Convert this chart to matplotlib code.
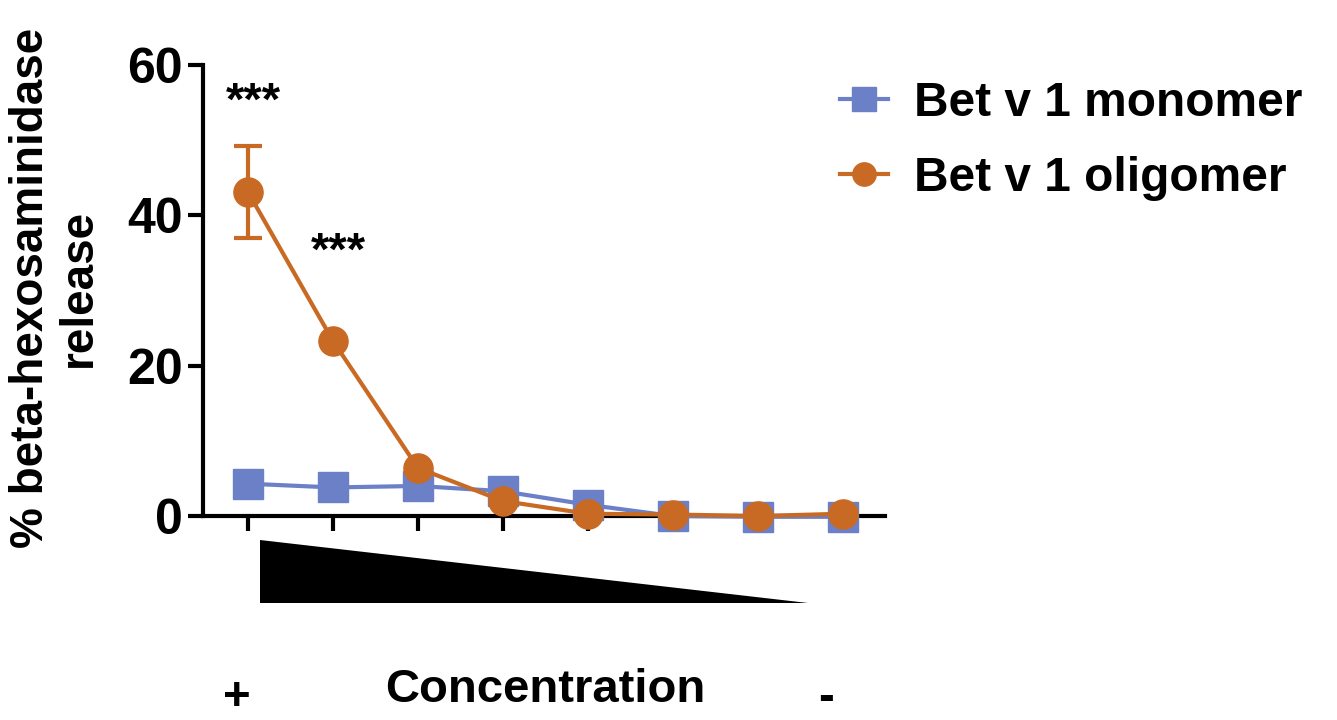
import numpy as np
import matplotlib.pyplot as plt
from matplotlib.patches import Polygon

plt.rcParams['font.family'] = ['Liberation Sans', 'DejaVu Sans']
plt.rcParams['font.weight'] = 'bold'

# dilution steps, highest concentration first
doses = np.arange(8)
monomer = [4.3, 3.8, 4.0, 3.3, 1.5, 0.0, -0.1, -0.1]
oligomer = [43.1, 23.3, 6.4, 2.0, 0.3, 0.2, 0.0, 0.3]
# SD only drawn where it sticks out of the marker
err_idx = [0]
oligomer_err = [6.1]
stars = ['***', '***']
star_y = [55.0, 35.0]

blue = '#6b80c6'
orange = '#c86a23'

fig = plt.figure(figsize=(13.37, 7.2), dpi=100)
ax = fig.add_axes([0.1518, 0.2833, 0.5102, 0.6264])

l1, = ax.plot(doses, monomer, color=blue, lw=3, marker='s', ms=21,
              label='Bet v 1 monomer', clip_on=False, zorder=3)
ax.errorbar(doses[err_idx], [oligomer[i] for i in err_idx], yerr=oligomer_err,
            fmt='none', ecolor=orange, capsize=10, capthick=3, elinewidth=3,
            zorder=4)
l2, = ax.plot(doses, oligomer, color=orange, lw=3, marker='o', ms=21,
              label='Bet v 1 oligomer', clip_on=False, zorder=5)

for i, s in enumerate(stars):
    ax.text(doses[i] + 0.07, star_y[i], s, ha='center', va='center',
            fontsize=34, fontweight='bold')

ax.set_xlim(-0.53, 7.5)
ax.set_ylim(0, 60)
ax.set_yticks([0, 20, 40, 60])
ax.set_xticks(doses)
ax.set_xticklabels([])
for s in ['top', 'right']:
    ax.spines[s].set_visible(False)
for s in ['left', 'bottom']:
    ax.spines[s].set_linewidth(3)
ax.tick_params(axis='both', width=3, length=11, labelsize=36)
for lab in ax.get_yticklabels():
    lab.set_fontweight('bold')

# concentration wedge below the axis
wedge = Polygon([(260 / 1337, 1 - 540 / 720), (808 / 1337, 1 - 603 / 720),
                 (260 / 1337, 1 - 603 / 720)], closed=True,
                facecolor='black', edgecolor='none', transform=fig.transFigure)
fig.patches.append(wedge)

fig.text(237 / 1337, 1 - 698 / 720, '+', ha='center', va='center',
         fontsize=34, fontweight='bold')
fig.text(826 / 1337, 1 - 698 / 720, '-', ha='center', va='center',
         fontsize=34, fontweight='bold')
fig.text(545 / 1337, 1 - 690 / 720, 'Concentration', ha='center', va='center',
         fontsize=34, fontweight='bold')

fig.text(55 / 1337, 1 - 288 / 720, '% beta-hexosaminidase\nrelease',
         rotation=90, ha='center', va='center', fontsize=33,
         fontweight='bold', linespacing=1.1)

fig.legend(handles=[l1, l2], loc='upper left',
           bbox_to_anchor=(840 / 1337, 1 - 81 / 720), borderpad=0,
           borderaxespad=0, frameon=False, fontsize=34.5, handlelength=1.0,
           handletextpad=0.55, labelspacing=0.62, markerscale=0.8)

fig.savefig('out.png', dpi=100)
